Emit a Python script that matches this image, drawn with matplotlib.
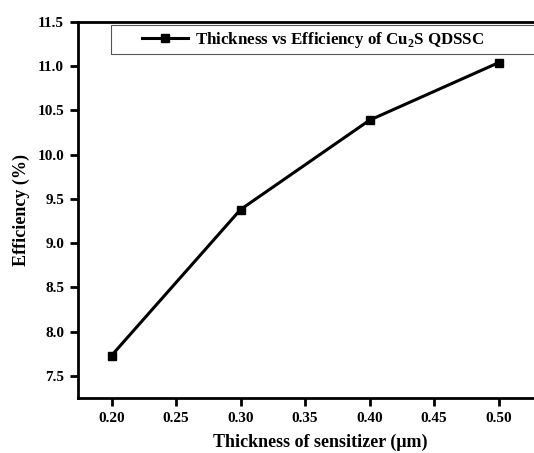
import matplotlib
matplotlib.use('Agg')
import matplotlib.pyplot as plt
from matplotlib.patches import Rectangle

thickness = [0.20, 0.30, 0.40, 0.50]  # um
efficiency = [7.73, 9.38, 10.39, 11.04]  # %
xticks = [0.20, 0.25, 0.30, 0.35, 0.40, 0.45, 0.50]
yticks = [7.5, 8.0, 8.5, 9.0, 9.5, 10.0, 10.5, 11.0, 11.5]

plt.rcParams['font.family'] = 'Liberation Serif'
plt.rcParams['font.weight'] = 'bold'
plt.rcParams['mathtext.fontset'] = 'custom'
plt.rcParams['mathtext.rm'] = 'Liberation Serif:bold'
plt.rcParams['mathtext.bf'] = 'Liberation Serif:bold'

fig = plt.figure(figsize=(5.34, 4.53), dpi=100)
# axes run past the right edge of the picture, like the cropped original
ax = fig.add_axes([78/534, 55/453, 485/534, 376/453])

ax.plot(thickness, efficiency, color='black', linewidth=2.2, marker='s', markersize=6,
        label='Thickness vs Efficiency of Cu$_\\mathbf{2}$S QDSSC')

ax.set_xlim(0.174, 0.55)
ax.set_ylim(7.25, 11.5)
ax.set_xticks(xticks)
ax.set_xticklabels([f'{t:.2f}' for t in xticks])
ax.set_yticks(yticks)
ax.set_yticklabels([f'{t:.1f}' for t in yticks])

for s in ax.spines.values():
    s.set_linewidth(2)
ax.tick_params(direction='out', length=6, width=2, labelsize=11, pad=4)

ax.set_xlabel('Thickness of sensitizer (\u03bcm)', fontsize=13, fontweight='bold', labelpad=6)
ax.set_ylabel('Efficiency (%)', fontsize=13, fontweight='bold', labelpad=5)

# legend frame drawn by hand, it runs off the right edge too
ax.add_patch(Rectangle((0.068, 0.915), 1.0, 0.077, transform=ax.transAxes, fill=False,
                       edgecolor='#555555', linewidth=0.8, clip_on=False))
leg = ax.legend(loc='center left', bbox_to_anchor=(0.132, 0.953), fontsize=12.2,
                frameon=False, borderpad=0, borderaxespad=0,
                handlelength=2.7, handletextpad=0.4)
for t in leg.get_texts():
    t.set_fontweight('bold')

fig.savefig('out.png', dpi=100)
